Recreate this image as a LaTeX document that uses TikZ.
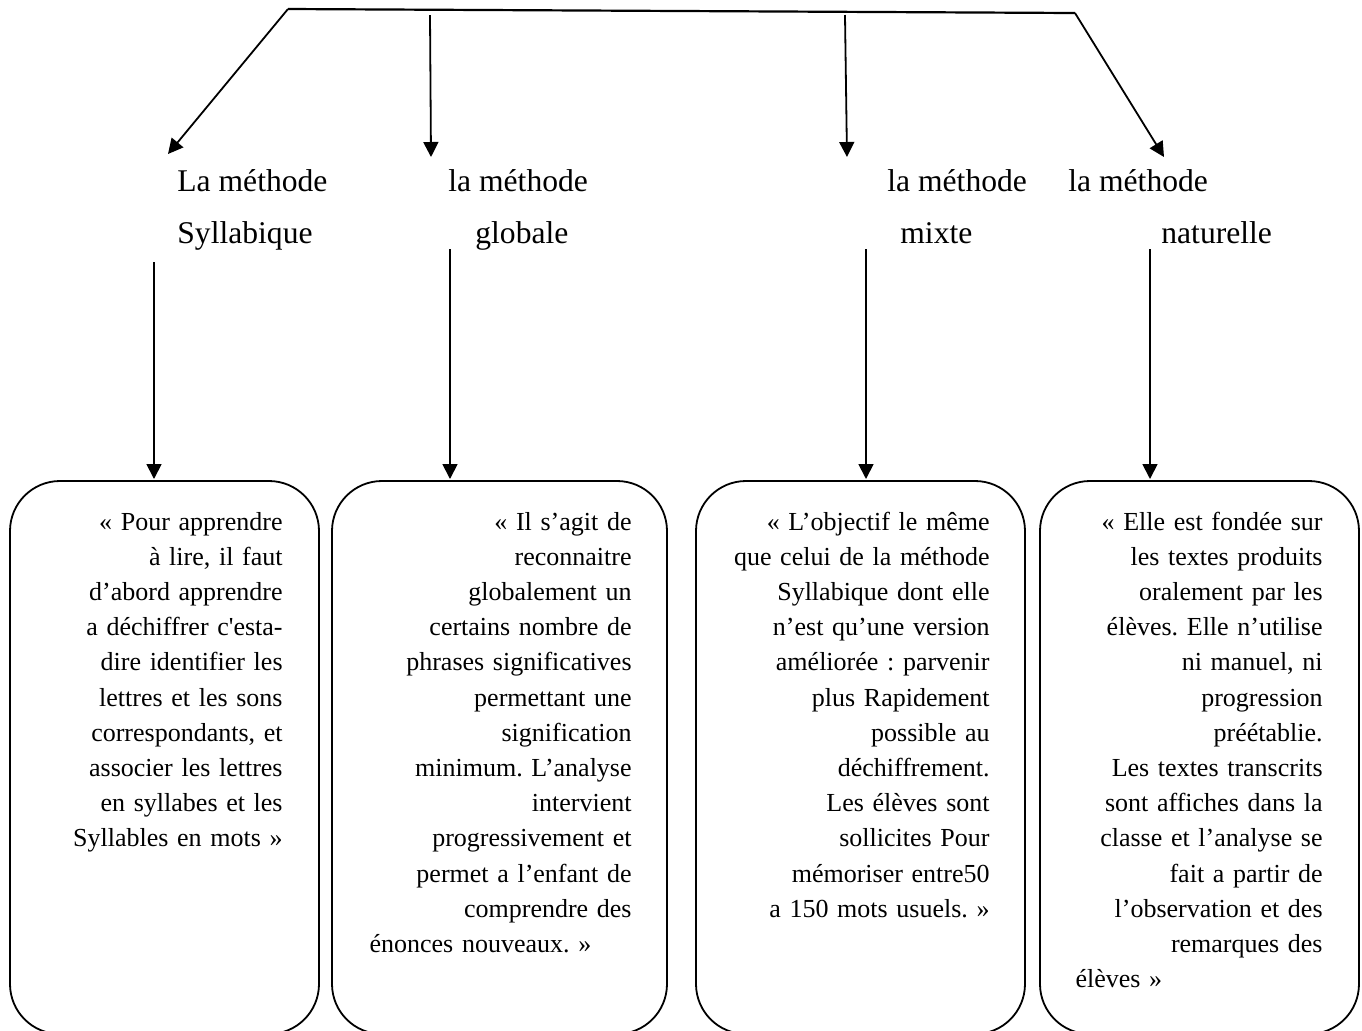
\documentclass[tikz,border=0pt]{standalone}
\usepackage{fontspec}
\setmainfont{Liberation Serif}[Ligatures=TeXOff]
\usetikzlibrary{arrows.meta}
\frenchspacing
\tikzset{
  bar/.style={line width=1.1pt},
  conn/.style={line width=0.9pt, -{Triangle[length=7.5pt,width=7.5pt]}},
  roundbox/.style={draw, line width=0.9pt, rounded corners=25pt},
  lbl/.style={anchor=base west, inner sep=0pt, font=\fontsize{15.8pt}{19pt}\selectfont},
  body/.style={anchor=base east, inner sep=0pt, align=right, font=\frenchspacing\fontsize{13pt}{17.6pt}\selectfont},
}
\begin{document}
\begin{tikzpicture}[x=0.5pt,y=-0.5pt]
\useasboundingbox (0,0) rectangle (1362,1030);
% top bar and start points
\coordinate (t0) at (288,9);
\coordinate (t1) at (1075,13);
\coordinate (s2) at (430,15);
\coordinate (s3) at (845,15);
\coordinate (e1) at (168,154);
\coordinate (e2) at (431,157);
\coordinate (e3) at (847,157);
\coordinate (e4) at (1164,157);
\draw[bar] (t0) -- (t1);
\draw[conn] (t0) -- (e1);
\draw[conn] (s2) -- (e2);
\draw[conn] (s3) -- (e3);
\draw[conn] (t1) -- (e4);
% labels
\node[lbl] (l1a) at (177,191) {La méthode};
\node[lbl] (l1b) at (177,243) {Syllabique};
\node[lbl] (l2a) at (448,191) {la méthode};
\node[lbl] (l2b) at (475,243) {globale};
\node[lbl] (l3a) at (887,191) {la méthode};
\node[lbl] (l3b) at (900,243) {mixte};
\node[lbl] (l4a) at (1068,191) {la méthode};
\node[lbl] (l4b) at (1161,243) {naturelle};
% lower connectors
\coordinate (u1) at (154,262);
\coordinate (u2) at (450,249);
\coordinate (u3) at (866,249);
\coordinate (u4) at (1150,249);
\coordinate (b1) at (154,479);
\coordinate (b2) at (450,479);
\coordinate (b3) at (866,479);
\coordinate (b4) at (1150,479);
\draw[conn] (u1) -- (b1);
\draw[conn] (u2) -- (b2);
\draw[conn] (u3) -- (b3);
\draw[conn] (u4) -- (b4);
% boxes
\draw[roundbox] (10,481) rectangle (319,1034);
\draw[roundbox] (332,481) rectangle (667,1034);
\draw[roundbox] (696,481) rectangle (1025,1034);
\draw[roundbox] (1040,481) rectangle (1359,1034);
% box texts
\node[body, text width=120pt] (x1) at (283,530) {« Pour apprendre\\
à lire, il faut\\
d’abord apprendre\\
a déchiffrer c'esta-\\
dire identifier les\\
lettres et les sons\\
correspondants, et\\
associer les lettres\\
en syllabes et les\\
Syllables en mots »};
\node[body, text width=131pt] (x2) at (632,530) {« Il s’agit de\\
reconnaitre\\
globalement un\\
certains nombre de\\
phrases significatives\\
permettant une\\
signification\\
minimum. L’analyse\\
intervient\\
progressivement et\\
permet a l’enfant de\\
comprendre des\\
\makebox[131pt][l]{énonces nouveaux. »}};
\node[body, text width=135pt] (x3) at (990,530) {« L’objectif le même\\
que celui de la méthode\\
Syllabique dont elle\\
n’est qu’une version\\
améliorée : parvenir\\
plus Rapidement\\
possible au\\
déchiffrement.\\
Les élèves sont\\
sollicites Pour\\
mémoriser entre50\\
a 150 mots usuels. »};
\node[body, text width=123.5pt] (x4) at (1323,530) {« Elle est fondée sur\\
les textes produits\\
oralement par les\\
élèves. Elle n’utilise\\
ni manuel, ni\\
progression\\
préétablie.\\
Les textes transcrits\\
sont affiches dans la\\
classe et l’analyse se\\
fait a partir de\\
l’observation et des\\
remarques des\\
\makebox[123.5pt][l]{élèves »}};
\end{tikzpicture}
\end{document}
